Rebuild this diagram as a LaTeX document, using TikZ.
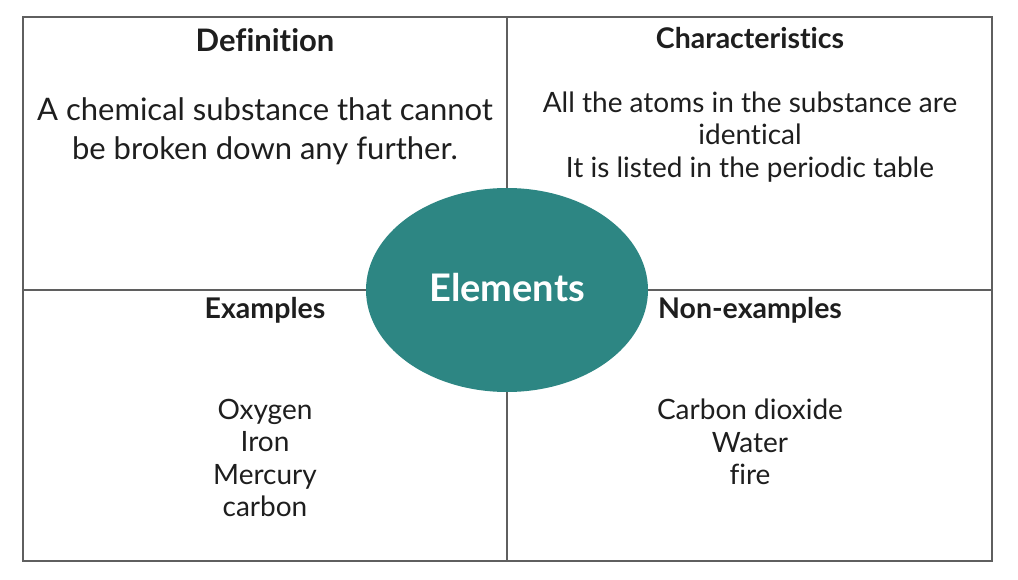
\documentclass[tikz,border=0pt]{standalone}
\usepackage{fontspec}
\setmainfont{Lato}[Ligatures=NoCommon]
\usepackage{tikz}
\usetikzlibrary{shapes.geometric}
\definecolor{elemteal}{RGB}{45,134,131}
\definecolor{framegrey}{RGB}{95,95,95}
\definecolor{textdark}{RGB}{30,30,30}

\begin{document}
\begin{tikzpicture}[x=1pt,y=-1pt]

%
% Styles
%
\tikzstyle{frame}   = [draw=framegrey,line width=1.5pt]
\tikzstyle{heading} = [text=textdark,font=\bfseries\fontsize{28.5}{32}\selectfont,inner sep=0pt]
\tikzstyle{body}    = [text=textdark,align=center,font=\fontsize{28}{32.5}\selectfont,inner sep=0pt]
\tikzstyle{defbody} = [body,font=\fontsize{31}{39}\selectfont]
\tikzstyle{centre}  = [ellipse,fill=elemteal,minimum width=282pt,minimum height=204pt,inner sep=0pt]
\tikzstyle{title}   = [text=white,font=\bfseries\fontsize{38}{44}\selectfont,inner sep=0pt]

\useasboundingbox (0,0) rectangle (1018,580);

\coordinate (nw) at (23,17);
\coordinate (se) at (992,561);
\coordinate (top) at (507,17);
\coordinate (bot) at (507,561);
\coordinate (lft) at (23,290);
\coordinate (rgt) at (992,290);

\draw[frame] (nw) rectangle (se);
\draw[frame] (top) -- (bot);
\draw[frame] (lft) -- (rgt);

\node[heading,font=\bfseries\fontsize{31}{34}\selectfont] (defhead) at (265,40) {Definition};
\node[defbody] (deftext)  at (265,131) {A chemical substance that cannot\\be broken down any further.};

\node[heading] (charhead) at (750,38)  {Characteristics};
\node[body]    (chartext) at (750,137) {All the atoms in the substance are\\identical\\It is listed in the periodic table};

\node[heading] (exhead)   at (265,310) {Examples};
\node[body]    (extext)   at (265,458) {Oxygen\\Iron\\Mercury\\carbon};

\node[heading] (nonhead)  at (750,310) {Non-examples};
\node[body]    (nontext)  at (750,442) {Carbon dioxide\\Water\\fire};

\node[centre]  (elements) at (507,290) {};
\node[title]   (elemtext) at (507,288) {Elements};

\end{tikzpicture}
\end{document}
